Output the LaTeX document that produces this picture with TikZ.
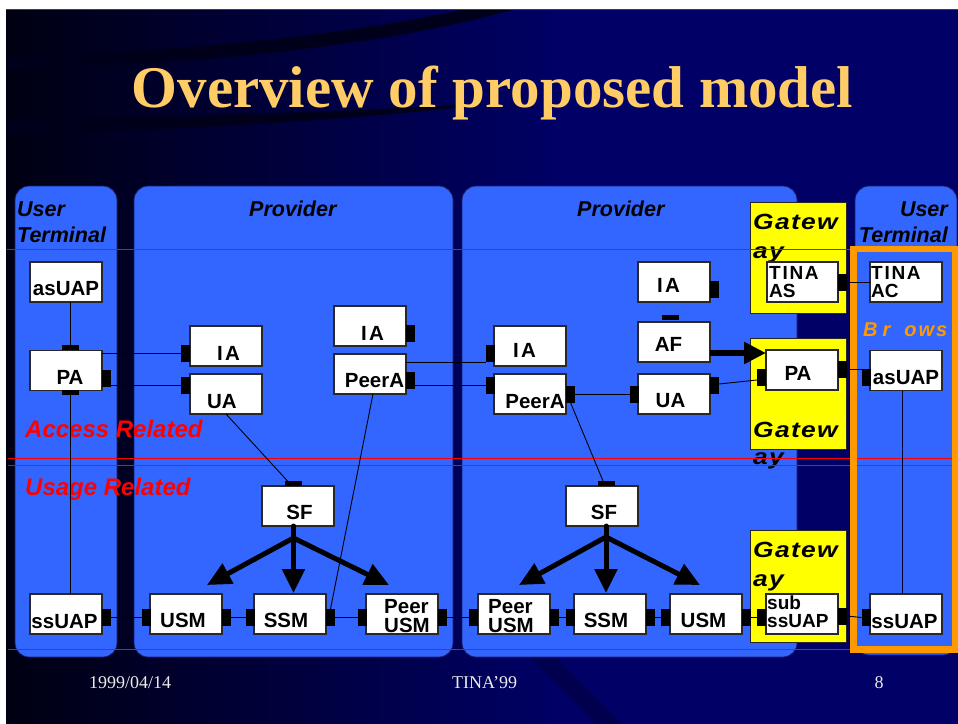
\documentclass[tikz,border=0pt]{standalone}
\usepackage{fontspec}
\setmainfont{Liberation Serif}
\setsansfont{Liberation Sans}
\usetikzlibrary{arrows.meta}

\definecolor{slidenavy}{RGB}{0,0,102}
\definecolor{slidedark}{RGB}{0,0,18}
\definecolor{swoosh}{RGB}{0,0,26}
\definecolor{panelblue}{RGB}{51,102,255}
\definecolor{paneledge}{RGB}{20,30,110}
\definecolor{titlegold}{RGB}{255,204,102}
\definecolor{gateyellow}{RGB}{255,255,0}
\definecolor{browserorange}{RGB}{255,153,0}
\definecolor{boxedge}{RGB}{40,40,40}
\definecolor{footgrey}{RGB}{235,235,235}

\newcommand\cmpfont{\sffamily\bfseries\fontsize{20.5}{20.5}\selectfont}
\newcommand\cmpfontT{\sffamily\bfseries\fontsize{19}{18}\selectfont}
\newcommand\cmpfontP{\sffamily\bfseries\fontsize{20.5}{19}\selectfont}
\newcommand\lblfont{\sffamily\bfseries\itshape\fontsize{21.5}{21.5}\selectfont}
\newcommand\relfont{\sffamily\bfseries\itshape\fontsize{24}{24}\selectfont}
\newcommand\gatefont{\sffamily\bfseries\itshape\fontsize{22}{22}\selectfont\addfontfeature{FakeStretch=1.2,LetterSpace=6}}
\newcommand\browfont{\sffamily\bfseries\itshape\fontsize{20}{20}\selectfont}
\newcommand\ftrfont{\rmfamily\fontsize{18}{18}\selectfont}
\newcommand\slidetitlefont{\rmfamily\bfseries\fontsize{59}{59}\selectfont}

\begin{document}
\begin{tikzpicture}[x=1pt,y=-1pt,
  panel/.style={fill=panelblue, draw=paneledge, line width=0.8pt, rounded corners=14pt},
  gatebox/.style={fill=gateyellow, draw=black!85, line width=0.8pt},
  cbox/.style={draw=boxedge, fill=white, line width=1.2pt, minimum width=72pt,
               minimum height=40pt, inner sep=0pt, outer sep=0pt},
  portv/.style={fill=black, inner sep=0pt, outer sep=0pt, minimum width=9pt, minimum height=17pt},
  porth/.style={fill=black, inner sep=0pt, outer sep=0pt, minimum width=17pt, minimum height=5pt},
  ctext/.style={font=\cmpfont, inner sep=0pt, anchor=base, text=black},
  ctwo/.style={inner sep=0pt, anchor=north west, align=left, text=black},
  lbl/.style={font=\lblfont, inner sep=0pt, anchor=base west, text=black},
  lble/.style={font=\lblfont, inner sep=0pt, anchor=base east, text=black},
  rel/.style={font=\relfont, inner sep=0pt, anchor=base west, text=red},
  gtxt/.style={font=\gatefont, inner sep=0pt, anchor=base west, text=black},
  conn/.style={draw=black, line width=0.9pt},
  fatarrow/.style={draw=black, line width=5pt, line cap=round, -{Triangle[length=24pt,width=22pt]}},
  fatstem/.style={draw=black, line width=5pt, line cap=round},
  redrule/.style={draw=red, line width=1.4pt},
  foot/.style={font=\ftrfont, text=footgrey, inner sep=0pt, anchor=base},
]
\useasboundingbox (0,0) rectangle (958,723);

% slide background
\fill[white] (0,0) rectangle (958,723);
\fill[slidenavy] (6,9.5) rectangle (960,726);
\shade[left color=slidedark, right color=slidenavy] (6,9.5) rectangle (560,726);
\draw[black!75, line width=1pt] (6,9.5) -- (960,9.5);
\fill[swoosh] (6,55) .. controls (200,52) and (360,32) .. (460,10)
  -- (512,10) .. controls (390,44) and (200,66) .. (6,69) -- cycle;
\fill[swoosh] (6,118) .. controls (200,116) and (350,112) .. (465,104)
  -- (465,107) .. controls (350,119) and (200,130) .. (6,134) -- cycle;
\fill[black, opacity=0.22] (530,657) -- (556,657) -- (624,726) -- (598,726) -- cycle;

% title and footer
\node[font=\slidetitlefont, text=titlegold, inner sep=0pt, anchor=base] (title) at (492.5,107) {Overview of proposed model};
\node[foot] (date) at (130,688) {1999/04/14};
\node[foot] (conf) at (484.5,688) {TINA'99};
\node[foot] (page) at (879,688) {8};

% domains
\draw[panel] (15,186) rectangle (117,657);
\draw[panel] (134,186) rectangle (453,657);
\draw[panel] (462,186) rectangle (797,657);
\draw[panel] (855,186) rectangle (957,655);

\node[lbl] (ut1a) at (17,216) {User};
\node[lbl] (ut1b) at (17,242) {Terminal};
\node[lbl] (prov1) at (249,216) {Provider};
\node[lbl] (prov2) at (577,216) {Provider};
\node[lble] (ut2a) at (948,216) {User};
\node[lble] (ut2b) at (948,242) {Terminal};

% gateways
\draw[gatebox] (750,202) rectangle (846,313);
\draw[gatebox] (750,338) rectangle (846,449);
\draw[gatebox] (750,530) rectangle (846,642);
\node[gtxt] (gw1a) at (753,229) {Gatew};
\node[gtxt] (gw1b) at (753,258) {ay};
\node[gtxt] (gw2a) at (753,437) {Gatew};
\node[gtxt] (gw2b) at (753,464) {ay};
\node[gtxt] (gw3a) at (753,557) {Gatew};
\node[gtxt] (gw3b) at (753,586) {ay};

% region rules
\draw[redrule] (7,249.5) -- (850,249.5);
\draw[redrule] (8,458.5) -- (953,458.5);
\draw[redrule] (8,465.5) -- (953,465.5);
\draw[redrule] (8,649.5) -- (852,649.5);

\node[rel] (accrel) at (25,437) {Access Related};
\node[rel] (usrel) at (25,495) {Usage Related};

% browser
\draw[browserorange, line width=6.5pt] (853.5,249) rectangle (955,649.5);
\node[font=\browfont, text=browserorange, inner sep=0pt, anchor=base west] (browser) at (863,336) {B\kern5pt r\kern14pt o\kern2pt w\kern2pt s};

% components
\node[cbox] (asUAP1) at (66,282) {};
\node[cbox] (PA1) at (66,370.5) {};
\node[cbox] (ssUAP1) at (66,614) {};
\node[cbox] (IA1) at (226,346) {};
\node[cbox] (UA1) at (226,394) {};
\node[cbox] (IA2) at (370,326) {};
\node[cbox] (PeerA1) at (370,374) {};
\node[cbox] (SF1) at (298,506) {};
\node[cbox] (USM1) at (186,614) {};
\node[cbox] (SSM1) at (290,614) {};
\node[cbox] (PUSM1) at (402,614) {};
\node[cbox] (IA3) at (530,346) {};
\node[cbox] (PeerA2) at (530,394) {};
\node[cbox] (IA4) at (674,282) {};
\node[cbox] (AF) at (674,342) {};
\node[cbox] (UA2) at (674,394) {};
\node[cbox] (SF2) at (602,506) {};
\node[cbox] (PUSM2) at (514,614) {};
\node[cbox] (SSM2) at (610,614) {};
\node[cbox] (USM2) at (706,614) {};
\node[cbox, minimum width=71pt] (TINAAS) at (802.5,282) {};
\node[cbox] (gPA) at (802,370) {};
\node[cbox] (subss) at (802,614) {};
\node[cbox] (TINAAC) at (906,282) {};
\node[cbox] (asUAP2) at (906,370.5) {};
\node[cbox] (ssUAP2) at (906,614) {};

% component names
\node[ctext] (asUAP1-t) at (66,295) {asUAP};
\node[ctext] (PA1-t) at (70,384) {PA};
\node[ctext] (ssUAP1-t) at (64.5,628) {ssUAP};
\node[ctext] (IA1-t) at (228.5,360) {\addfontfeature{LetterSpace=12}IA};
\node[ctext] (UA1-t) at (222,408) {UA};
\node[ctext] (IA2-t) at (372.5,340) {\addfontfeature{LetterSpace=12}IA};
\node[ctext] (PeerA1-t) at (374.5,387) {PeerA};
\node[ctext] (SF1-t) at (299.5,519) {SF};
\node[ctext] (USM1-t) at (183,627) {USM};
\node[ctext] (SSM1-t) at (286,627) {SSM};
\node[ctwo, font=\cmpfontP] (PUSM1-t) at (384,599.3) {Peer\\USM};
\node[ctext] (IA3-t) at (524.5,357) {\addfontfeature{LetterSpace=12}IA};
\node[ctext] (PeerA2-t) at (535,408) {PeerA};
\node[ctext] (IA4-t) at (668.5,292) {\addfontfeature{LetterSpace=12}IA};
\node[ctext] (AF-t) at (668.5,351) {AF};
\node[ctext] (UA2-t) at (670.5,407) {UA};
\node[ctext] (SF2-t) at (604,519) {SF};
\node[ctwo, font=\cmpfontP] (PUSM2-t) at (488,599.3) {Peer\\USM};
\node[ctext] (SSM2-t) at (606,627) {SSM};
\node[ctext] (USM2-t) at (703.5,627) {USM};
\node[ctwo, font=\cmpfontT] (TINAAS-t) at (769,266) {\addfontfeature{LetterSpace=9}TINA\\AS};
\node[ctext] (gPA-t) at (798,380) {PA};
\node[ctwo, font=\cmpfontT] (subss-t) at (767,596) {sub\\ssUAP};
\node[ctwo, font=\cmpfontT] (TINAAC-t) at (871,266) {\addfontfeature{LetterSpace=9}TINA\\AC};
\node[ctext] (asUAP2-t) at (906,384) {asUAP};
\node[ctext] (ssUAP2-t) at (904.5,628) {ssUAP};

% interface ports
\node[porth] (PA1-tp) at (70,347.5) {};
\node[porth] (PA1-bp) at (70,392.5) {};
\node[portv] (PA1-r) at (106.5,378) {};
\node[portv] (ssUAP1-r) at (106.5,617.5) {};
\node[portv] (IA1-l) at (185.5,353.5) {};
\node[portv] (UA1-l) at (185.5,385) {};
\node[portv] (IA2-r) at (410.5,333) {};
\node[portv] (PeerA1-r) at (410.5,380.5) {};
\node[porth] (SF1-tp) at (293.5,483.5) {};
\node[portv] (USM1-l) at (146,617.5) {};
\node[portv] (USM1-r) at (226.5,617.5) {};
\node[portv] (SSM1-l) at (250,617.5) {};
\node[portv] (SSM1-r) at (330.5,617.5) {};
\node[portv] (PUSM1-l) at (362,617.5) {};
\node[portv] (PUSM1-r) at (442.5,617.5) {};
\node[portv] (IA3-l) at (490,353.5) {};
\node[portv] (PeerA2-l) at (490,385) {};
\node[portv] (PeerA2-r) at (570.5,394) {};
\node[portv] (IA4-r) at (714.5,289.5) {};
\node[porth] (AF-tp) at (670,317.5) {};
\node[portv] (UA2-l) at (634,394) {};
\node[portv] (UA2-r) at (714.5,385.5) {};
\node[porth] (SF2-tp) at (606,483.5) {};
\node[portv] (PUSM2-l) at (473.5,617.5) {};
\node[portv] (PUSM2-r) at (554.5,617.5) {};
\node[portv] (SSM2-l) at (570,617.5) {};
\node[portv] (SSM2-r) at (650.5,617.5) {};
\node[portv] (USM2-l) at (665.5,617.5) {};
\node[portv] (USM2-r) at (746.5,617.5) {};
\node[portv] (TINAAS-r) at (842.5,282) {};
\node[portv] (gPA-l) at (761.5,377.5) {};
\node[portv] (gPA-r) at (842.5,369.5) {};
\node[portv] (subss-l) at (761.5,617.5) {};
\node[portv] (subss-r) at (842.5,616) {};
\node[portv] (asUAP2-l) at (866,377.5) {};
\node[portv] (ssUAP2-l) at (866,617.5) {};

% bindings
\draw[conn] (PA1-tp.north) -- (PA1-tp.north |- asUAP1.south);
\draw[conn] (PA1-bp.south) -- (PA1-bp.south |- ssUAP1.north);
\draw[conn] (IA1-l.west) -- (IA1-l.west -| PA1.east);
\draw[conn] (UA1-l.west) -- (UA1-l.west -| PA1-r.east);
\draw[conn] (UA1.south) -- ([xshift=-6pt]SF1-tp.north);
\draw[conn] ([xshift=3pt]PeerA1.south) -- (SSM1-r.north);
\draw[conn] (IA3-l.south west) -- (IA3-l.south west -| PeerA1.east);
\draw[conn] (PeerA2-l.west) -- (PeerA2-l.west -| PeerA1-r.east);
\draw[conn] (PeerA2-r.east) -- (PeerA2-r.east -| UA2-l.west);
\draw[conn] ([yshift=1.5pt]UA2-r.east) -- ([yshift=-2.5pt]gPA-l.west);
\draw[conn] (PeerA2-r.south) -- ([xshift=-3pt]SF2-tp.north);
\draw[conn] (TINAAS-r.east) -- (TINAAS-r.east -| TINAAC.west);
\draw[conn] (gPA-r.east) -- (gPA-r.east -| asUAP2-l.west);
\draw[draw=black!80!blue, line width=1pt] ([xshift=-4pt]asUAP2.south) -- ([xshift=-4pt]ssUAP2.north);

% usage chain
\draw[conn] (ssUAP1-r.east) -- (USM1-l.west);
\draw[conn] (USM1-r.east) -- (SSM1-l.west);
\draw[conn] (SSM1-r.east) -- (PUSM1-l.west);
\draw[conn] (PUSM1-r.east) -- (PUSM2-l.west);
\draw[conn] (PUSM2-r.east) -- (SSM2-l.west);
\draw[conn] (SSM2-r.east) -- (USM2-l.west);
\draw[conn] (USM2-r.east) -- (subss-l.west);
\draw[conn] (subss-r.east) -- (ssUAP2-l.west);

% service factory creation arrows
\coordinate (SF1b) at (293.5,538);
\coordinate (SF1l) at (207,585);
\coordinate (SF1d) at (293.5,593);
\coordinate (SF1r) at (389,585);
\draw[fatstem] (SF1-tp.north |- SF1.south) -- (SF1b);
\draw[fatarrow] (SF1b) -- (SF1l);
\draw[fatarrow] (SF1b) -- (SF1d);
\draw[fatarrow] (SF1b) -- (SF1r);

\coordinate (SF2b) at (606,537);
\coordinate (SF2l) at (519,585);
\coordinate (SF2d) at (606,593);
\coordinate (SF2r) at (700,585);
\draw[fatstem] (SF2-tp.north |- SF2.south) -- (SF2b);
\draw[fatarrow] (SF2b) -- (SF2l);
\draw[fatarrow] (SF2b) -- (SF2d);
\draw[fatarrow] (SF2b) -- (SF2r);

% access federation to gateway PA
\draw[draw=black, line width=6pt, -{Triangle[length=22pt,width=21pt]}]
  ([yshift=-11pt]AF.east) -- ([yshift=-11pt]AF.east -| gPA.west);

\end{tikzpicture}
\end{document}
